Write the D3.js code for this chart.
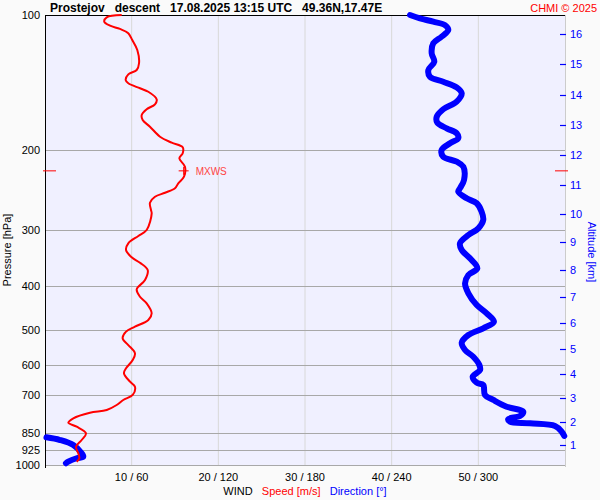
<!DOCTYPE html>
<html><head><meta charset="utf-8">
<script src="https://cdn.jsdelivr.net/npm/d3@7"></script>
<style>
body{margin:0;background:#fafafa}
svg{display:block}
text{font-family:"Liberation Sans",Arial,sans-serif}
</style>
</head><body>
<svg id="c" width="600" height="500"></svg>
<script>
// ---- data ----
const pressureTicks = [100,200,300,400,500,600,700,850,925,1000];
const speedTicks = [10,20,30,40,50];
const speedTickLabels = ["10 / 60","20 / 120","30 / 180","40 / 240","50 / 300"];
const altitudeKm = [1,2,3,4,5,6,7,8,9,10,11,12,13,14,15,16];
const altitudePressure = [903,803,710,627,552,483.5,423.5,368.6,319,276.9,238.7,204.7,175.6,150.5,128.5,110.2];

const speedPressure = [100,101.2,103.5,105.6,107.4,109.8,113.7,119.6,128.0,132.5,135.5,139.5,141.8,145.5,148.1,154.0,157.9,162.0,166.8,171.1,177.1,186.4,192.2,196.8,202.9,208.2,217.3,228.7,236.6,242.7,248.3,253.4,261.3,271.2,275.9,300.5,309.8,321.6,332.9,345.5,355.2,368.7,388.1,407.0,422.7,437.2,460.1,476.2,492.8,505.5,522.9,541.2,564.7,584.3,609.7,625.5,653.0,669.9,698.9,717.0,735.6,754.7,765.2,787.4,805.4,822.0,850.3,879.9,910.6,941.9,966.3,983.3];
const speedValues = [8.85,7.12,6.84,7.50,8.65,9.61,10.07,10.65,10.85,10.58,9.61,9.31,9.61,10.96,11.92,12.89,12.69,11.73,11.16,11.27,12.11,13.27,14.62,15.89,15.89,15.50,16.15,16.04,15.38,15.00,13.85,12.69,12.11,12.23,12.31,11.73,10.77,9.61,9.35,10.00,10.96,11.85,11.54,10.58,10.96,11.73,12.31,11.92,10.38,9.35,8.96,9.61,10.38,10.12,9.35,9.11,9.81,10.38,10.12,9.03,8.27,7.12,5.19,3.27,2.69,3.66,4.73,4.23,3.58,3.84,3.96,3.66];

const dirPressure = [100,101.7,103.5,105.3,108.0,111.7,115.6,121.7,127.0,132.5,137.1,140.7,144.8,149.3,155.8,162.0,168.3,173.5,178.6,183.2,187.9,192.8,199.5,206.5,211.8,217.3,232.6,242.7,247.0,255.5,262.1,273.6,285.5,297.9,308.3,321.6,332.9,347.3,365.5,378.3,394.7,415.4,441.0,460.1,480.3,496.8,514.1,534.8,555.2,574.6,599.5,615.0,636.5,656.4,664.1,698.9,717.0,742.1,761.3,778.2,790.3,801.3,807.9,819.1,843.3,862,868,880,903,942,958,966,983,991];
const dirValues = [252.7,259.6,268.8,276.9,279.2,274.6,268.8,267.7,269.5,265.4,266.5,275.7,285.0,288.5,285.0,275.7,271.2,271.6,278.1,285.0,286.1,280.4,274.6,275.7,285.0,289.6,290.1,287.3,286.1,291.9,298.9,302.3,303.4,300.0,293.1,287.3,288.5,294.2,299.3,293.1,290.8,293.1,298.9,305.8,310.8,303.4,293.1,288.5,290.8,296.5,300.7,301.2,296.1,298.9,303.4,304.6,310.4,319.6,331.1,328.8,320.7,321.9,335.8,353.1,357.7,359.5,1,10.4,19.6,25.4,26.5,21.9,16.1,14.5];

const mxwsPressure = 222;
const mxwsSpeed = 16;
const titleText = "Prostejov   descent   17.08.2025 13:15 UTC   49.36N,17.47E";

// ---- layout ----
const L = 45, R = 565, T = 15, B = 465;
const svg = d3.select("#c");
const y = d3.scaleLog().domain([100,1000]).range([T,B]);
const xs = d3.scaleLinear().domain([0,60]).range([L,R]);
const xd = d3.scaleLinear().domain([0,360]).range([L,R]);

svg.append("rect").attr("x",L).attr("y",T).attr("width",R-L).attr("height",B-T).attr("fill","#f0f0ff");

// vertical grid
svg.append("g").selectAll("line").data(speedTicks).join("line")
  .attr("x1",d=>xs(d)).attr("x2",d=>xs(d)).attr("y1",T).attr("y2",B)
  .attr("stroke","#d8d8d8").attr("stroke-width",1);

// horizontal grid
svg.append("g").selectAll("line").data(pressureTicks.filter(p=>p>100)).join("line")
  .attr("x1",L).attr("x2",R).attr("y1",d=>Math.round(y(d))+0.5).attr("y2",d=>Math.round(y(d))+0.5)
  .attr("stroke","#a8a8a8").attr("stroke-width",1);

// right axis line
svg.append("line").attr("x1",R+0.5).attr("x2",R+0.5).attr("y1",T).attr("y2",B+2).attr("stroke","#cccccc");
// top border
svg.append("line").attr("x1",L).attr("x2",R).attr("y1",T+0.5).attr("y2",T+0.5).attr("stroke","#000");
// left axis
svg.append("line").attr("x1",L+0.5).attr("x2",L+0.5).attr("y1",T).attr("y2",B+3).attr("stroke","#000");

// left labels
const leftAxis = d3.axisLeft(y).tickValues(pressureTicks).tickFormat(d3.format("d")).tickSize(0).tickPadding(5);
const ga = svg.append("g").attr("transform",`translate(${L},0)`).call(leftAxis);
ga.select(".domain").remove();
ga.selectAll("text").attr("font-size",11).attr("fill","#000").attr("font-family","Liberation Sans, Arial, sans-serif");

svg.append("text").attr("transform",`translate(11,250) rotate(-90)`).attr("text-anchor","middle")
  .attr("font-size",11).attr("fill","#000").text("Pressure [hPa]");

// bottom labels
svg.append("g").selectAll("text").data(speedTicks).join("text")
  .attr("x",d=>xs(d)).attr("y",481).attr("text-anchor","middle").attr("font-size",11).attr("fill","#000")
  .text((d,i)=>speedTickLabels[i]);

const leg = svg.append("text").attr("x",305).attr("y",495).attr("text-anchor","middle").attr("font-size",11).style("white-space","pre");
leg.append("tspan").attr("fill","#000").text("WIND   ");
leg.append("tspan").attr("fill","#ff0000").text("Speed [m/s]   ");
leg.append("tspan").attr("fill","#0000ff").text("Direction [°]");

// right altitude axis
const ra = svg.append("g");
ra.selectAll("line").data(altitudeKm).join("line")
  .attr("x1",R-5).attr("x2",R+1).attr("y1",(d,i)=>Math.round(y(altitudePressure[i]))+0.5).attr("y2",(d,i)=>Math.round(y(altitudePressure[i]))+0.5)
  .attr("stroke","#0000ff").attr("stroke-width",1.2);
ra.selectAll("text").data(altitudeKm).join("text")
  .attr("x",R+5).attr("y",(d,i)=>y(altitudePressure[i])+4).attr("font-size",11).attr("fill","#0000ff").text(d=>d);
svg.append("text").attr("transform",`translate(588,252) rotate(90)`).attr("text-anchor","middle")
  .attr("font-size",11).attr("fill","#0000ff").text("Altitude [km]");

// title
svg.append("text").attr("x",50).attr("y",12).attr("font-size",12).attr("font-weight","bold").attr("fill","#000")
  .style("white-space","pre").text(titleText);
svg.append("text").attr("x",597).attr("y",12).attr("text-anchor","end").attr("font-size",11).attr("fill","#ff0000").text("CHMI © 2025");

// tropopause / mxws markers
const ym = y(mxwsPressure);
svg.append("line").attr("x1",L-2).attr("x2",L+11).attr("y1",ym).attr("y2",ym).attr("stroke","#ff0000");
svg.append("line").attr("x1",R-10).attr("x2",R+3).attr("y1",ym).attr("y2",ym).attr("stroke","#ff0000");

// direction line (split at wrap)
const dirPts = dirPressure.map((p,i)=>[dirValues[i],p]);
const segs = [];
let cur = [];
dirPts.forEach((d,i)=>{
  if(i>0 && Math.abs(d[0]-dirPts[i-1][0])>180){ segs.push(cur); cur=[]; }
  cur.push(d);
});
segs.push(cur);
const dline = d3.line().x(d=>xd(d[0])).y(d=>y(d[1])).curve(d3.curveCatmullRom.alpha(0.5));
svg.append("g").selectAll("path").data(segs).join("path")
  .attr("d",dline).attr("fill","none").attr("stroke","#0000ff").attr("stroke-width",6)
  .attr("stroke-linejoin","round").attr("stroke-linecap","round");

// speed line
const sPts = speedPressure.map((p,i)=>[speedValues[i],p]);
const sline = d3.line().x(d=>xs(d[0])).y(d=>y(d[1])).curve(d3.curveCatmullRom.alpha(0.5));
svg.append("path").datum(sPts).attr("d",sline).attr("fill","none").attr("stroke","#ff0000").attr("stroke-width",2)
  .attr("stroke-linejoin","round");

// MXWS cross + label
const xm = xs(mxwsSpeed);
svg.append("line").attr("x1",xm-5).attr("x2",xm+5).attr("y1",ym).attr("y2",ym).attr("stroke","#ff0000").attr("stroke-width",1);
svg.append("line").attr("x1",xm).attr("x2",xm).attr("y1",ym-4).attr("y2",ym+4).attr("stroke","#ff0000").attr("stroke-width",1);
svg.append("text").attr("x",xm+12).attr("y",ym+4).attr("font-size",10).attr("fill","#ff4444").text("MXWS");
</script>
</body></html>
